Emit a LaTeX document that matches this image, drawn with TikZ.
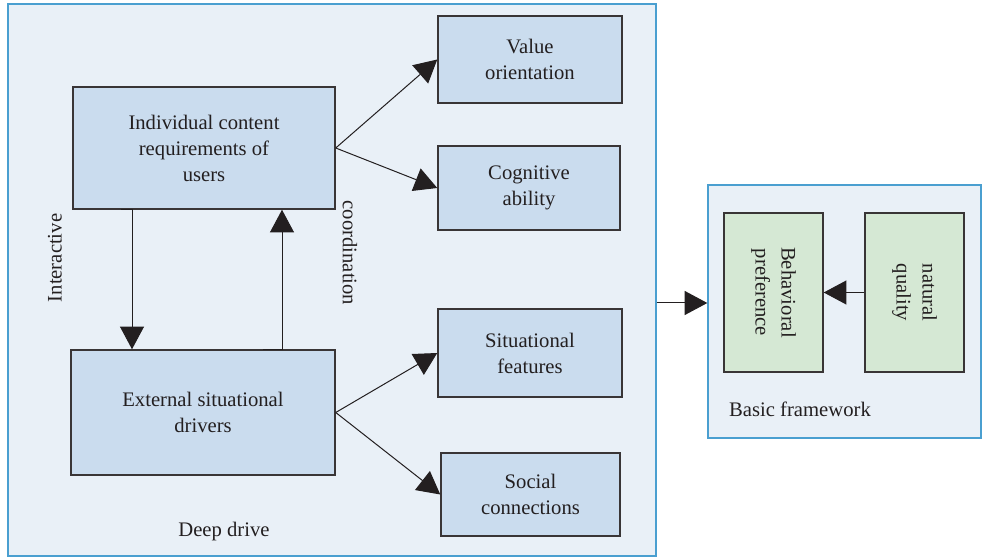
\documentclass[tikz,border=0pt]{standalone}
\usepackage{fontspec}
\setmainfont{Liberation Serif}
\usetikzlibrary{arrows.meta}

\definecolor{framefill}{HTML}{E9F0F7}
\definecolor{frameline}{HTML}{4A9FD0}
\definecolor{boxfill}{HTML}{CADCEE}
\definecolor{greenfill}{HTML}{D5E8D4}
\definecolor{inkgray}{HTML}{231F20}

\begin{document}
\begin{tikzpicture}[
                x = 0.75pt, y = -0.75pt, % pixel grid, y going down
                > = {Triangle[length=17pt, width=18pt]}, % arrow head style
                font = \fontsize{15.5}{19.5}\selectfont,
                text = inkgray,
                line width = 0.75pt % line style
        ]

        \tikzstyle{frame}=[
            draw = frameline,
            fill = framefill,
            line width = 1pt,
            inner sep = 0pt
        ]
        \tikzstyle{block}=[
            draw = inkgray!90,
            fill = boxfill,
            line width = 1.1pt,
            align = center,
            inner sep = 0pt
        ]
        \tikzstyle{leaf}=[block, fill = greenfill, rotate = -90]

        \useasboundingbox (0,0) rectangle (982,559);

        % frames
        \node[frame, minimum width = 486pt, minimum height = 414pt] (deep) at (332,280) {};
        \node[frame, minimum width = 204.75pt, minimum height = 189.75pt] (basic) at (844.5,311.5) {};
        \node (deeplbl) at (224,532) {Deep drive};
        \node (basiclbl) at (800,409) {Basic framework};

        % deep drive
        \node[block, minimum width = 196.5pt, minimum height = 91.5pt] (ind) at (204,148) {Individual content\\requirements of\\users};
        \node[block, minimum width = 198pt, minimum height = 93.75pt] (ext) at (203,412.5) {External situational\\drivers};
        \node[block, minimum width = 138pt, minimum height = 65.25pt] (val) at (530,59.5) {Value\\orientation};
        \node[block, minimum width = 136.5pt, minimum height = 63pt] (cog) at (529,188) {Cognitive\\ability};
        \node[block, minimum width = 138pt, minimum height = 66pt] (sit) at (530,353) {Situational\\features};
        \node[block, minimum width = 134.25pt, minimum height = 62.25pt] (soc) at (530.5,494.5) {Social\\connections};

        % basic framework (turned nodes: north is the right side)
        \node[leaf, minimum width = 119.25pt, minimum height = 74.25pt] (beh) at (773.5,292.5) {Behavioral\\preference};
        \node[leaf, minimum width = 119.25pt, minimum height = 74.25pt] (nat) at (914.5,292.5) {natural\\quality};

        \node[rotate = 90] (inter) at (55,258) {Interactive};
        \node[rotate = -90] (coord) at (350,253) {coordination};

        \coordinate (dnx) at (132,0);
        \coordinate (upx) at (282,0);
        \coordinate (lnk) at (0,303);

        \draw[->, draw = inkgray] (ind.east) -- (val.west);
        \draw[->, draw = inkgray] (ind.east) -- (cog.west);
        \draw[->, draw = inkgray] (ext.east) -- (sit.west);
        \draw[->, draw = inkgray] (ext.east) -- (soc.west);

        \draw[->, draw = inkgray] (ind.south -| dnx) ++(-11,0) -- (ind.south -| dnx) -- (ext.north -| dnx);
        \draw[->, draw = inkgray] (ext.north -| upx) ++(-19,0) -- (ext.north -| upx) -- (ind.south -| upx);

        \draw[->, draw = inkgray] (nat.south) -- (beh.north);
        \draw[->, draw = inkgray] (deep.east |- lnk) -- (basic.west |- lnk);

        \end{tikzpicture}
\end{document}
